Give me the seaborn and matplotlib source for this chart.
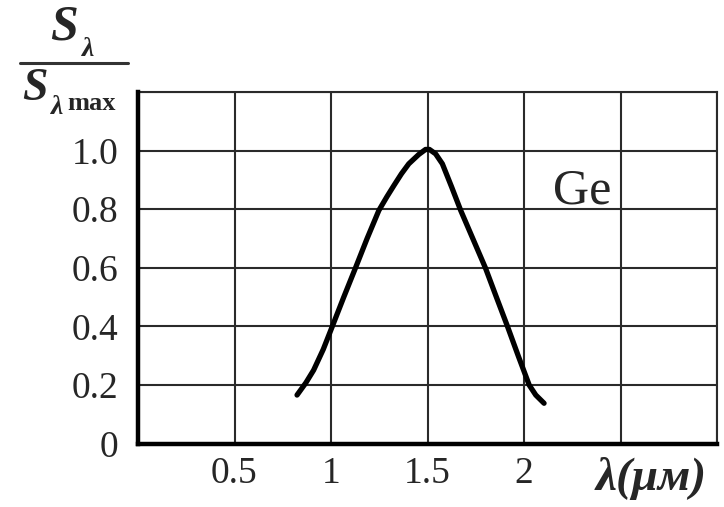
import matplotlib
matplotlib.use("Agg")
import matplotlib.pyplot as plt
import seaborn as sns
import pandas as pd
from matplotlib.lines import Line2D

# data
wavelength = [0.824, 0.870, 0.910, 0.960, 1.006, 1.066, 1.127, 1.187, 1.248, 1.290, 1.326,
              1.365, 1.403, 1.455, 1.490, 1.510, 1.542, 1.577, 1.625, 1.672, 1.736, 1.800,
              1.857, 1.914, 1.970, 2.027, 2.061, 2.104]
response = [0.166, 0.208, 0.251, 0.322, 0.399, 0.500, 0.600, 0.700, 0.796, 0.843, 0.881,
            0.921, 0.955, 0.987, 1.004, 1.004, 0.989, 0.955, 0.876, 0.796, 0.698, 0.600,
            0.500, 0.401, 0.300, 0.200, 0.166, 0.138]
x_ticks = [0, 0.5, 1.0, 1.5, 2.0, 2.5, 3.0]
x_ticklabels = ["", "0.5", "1", "1.5", "2", "", ""]
y_ticks = [0, 0.2, 0.4, 0.6, 0.8, 1.0, 1.2]
y_ticklabels = ["0", "0.2", "0.4", "0.6", "0.8", "1.0", ""]

sns.set_style("white")
plt.rcParams["font.family"] = ["Liberation Serif", "DejaVu Serif"]

df = pd.DataFrame({"wl": wavelength, "s": response})

fig = plt.figure(figsize=(7.24, 5.07), dpi=100)
ax = fig.add_axes([138/724, 1-443.7/507, (717-138)/724, (443.7-92)/507])

sns.lineplot(data=df, x="wl", y="s", ax=ax, color="black", linewidth=3.8,
             sort=False, estimator=None, zorder=5,
             solid_joinstyle="round", solid_capstyle="round")

ax.set_xlim(0, 3.0)
ax.set_ylim(0, 1.2)
ax.set_xticks(x_ticks)
ax.set_xticklabels(x_ticklabels)
ax.set_yticks(y_ticks)
ax.set_yticklabels(y_ticklabels)
ax.tick_params(axis="both", length=0, labelsize=27)
ax.tick_params(axis="x", pad=9)
ax.tick_params(axis="y", pad=14)
ax.grid(True, color="#2a2a2a", linewidth=1.5)
ax.set_xlabel("")
ax.set_ylabel("")

for side in ["top", "right"]:
    ax.spines[side].set_linewidth(1.5)
    ax.spines[side].set_color("#2a2a2a")
for side in ["left", "bottom"]:
    ax.spines[side].set_linewidth(3.2)
    ax.spines[side].set_color("black")
    ax.spines[side].set_zorder(6)

ax.text(2.30, 0.82, "Ge", fontsize=36, ha="center", va="baseline")

# axis label on x
fig.text(651/724, 1-478/507, "λ(μм)", fontsize=34, fontweight="bold",
         fontstyle="italic", ha="center", va="center")

# y label as a fraction
def ft(px, py, s, size, **kw):
    fig.text(px/724, 1-py/507, s, fontsize=size, fontweight="bold",
             fontstyle="italic", **kw)

ft(64, 40, "S", 36, ha="center", va="baseline")
ft(88, 56, "λ", 20, ha="center", va="baseline")
fig.add_artist(Line2D([20/724, 128/724], [1-63/507, 1-63/507], color="#333333",
                      linewidth=2.2, transform=fig.transFigure))
ft(35, 100, "S", 33, ha="center", va="baseline")
ft(57, 114, "λ", 20, ha="center", va="baseline")
fig.text(67/724, 1-110/507, "max", fontsize=19, fontweight="bold",
         ha="left", va="baseline")

fig.savefig("out.png", dpi=100)
